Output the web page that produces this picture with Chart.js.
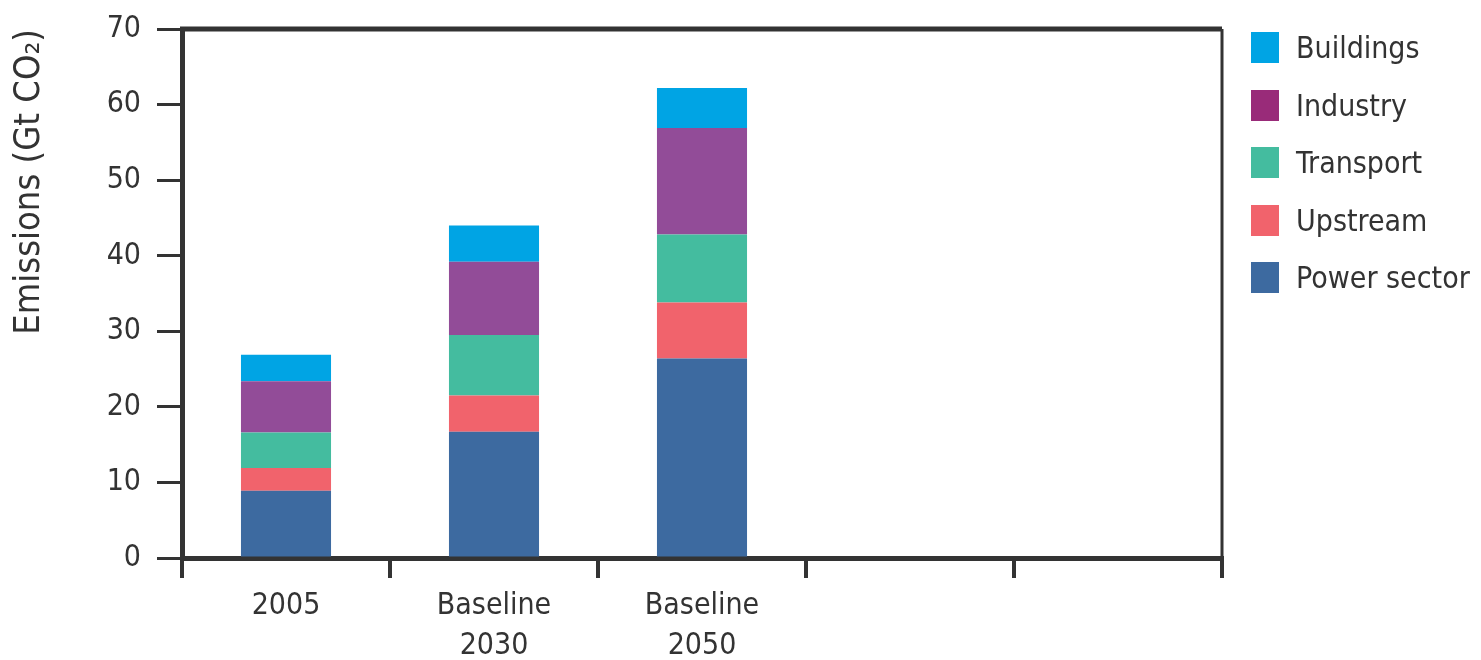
<!DOCTYPE html>
<html>
<head>
<meta charset="utf-8">
<script src="https://cdn.jsdelivr.net/npm/chart.js@4"></script>
<style>
  body { margin: 0; background: #fff; }
  #wrap { position: relative; width: 1481px; height: 660px; }
  #legend { position: absolute; left: 1251px; top: 32px; margin: 0; padding: 0; list-style: none;
    font-family: "Liberation Sans Narrow", "DejaVu Sans Condensed", sans-serif; font-size: 30px; color: #333; }
  #legend li { display: flex; align-items: flex-start; height: 57.5px; margin: 0; }
  #legend li span.box { display: inline-block; width: 28px; height: 31px; margin-right: 17px; }
  #legend li span.txt { line-height: 31px; }
</style>
</head>
<body>
<div id="wrap">
  <canvas id="chart" width="1481" height="660"></canvas>
  <ul id="legend"></ul>
</div>
<script>
const categories = ["2005", ["Baseline", "2030"], ["Baseline", "2050"], "", ""];
const powerSector = [8.9, 16.7, 26.4];
const upstream = [3.0, 4.8, 7.4];
const transport = [4.7, 8.0, 9.0];
const industry = [6.8, 9.7, 14.1];
const buildings = [3.5, 4.8, 5.3];
const yTicks = [0, 10, 20, 30, 40, 50, 60, 70];

const ink = "#333333";
const font = "'Liberation Sans Narrow', 'DejaVu Sans Condensed', sans-serif";

const series = [
  { label: "Power sector", data: powerSector, color: "#3d6aa0", key: "#3d6aa0" },
  { label: "Upstream", data: upstream, color: "#f1636c", key: "#f1636c" },
  { label: "Transport", data: transport, color: "#44bc9f", key: "#44bc9f" },
  { label: "Industry", data: industry, color: "#924c98", key: "#992b79" },
  { label: "Buildings", data: buildings, color: "#00a4e4", key: "#00a4e4" },
];

// legend top to bottom
const legend = document.getElementById("legend");
series.slice().reverse().forEach(function (s) {
  const li = document.createElement("li");
  li.innerHTML = '<span class="box" style="background:' + s.key + '"></span><span class="txt">' + s.label + "</span>";
  legend.appendChild(li);
});

const frame = {
  id: "frame",
  afterDraw(chart) {
    const a = chart.chartArea;
    const ctx = chart.ctx;
    ctx.save();
    ctx.strokeStyle = ink;
    ctx.lineWidth = 5;
    ctx.beginPath();
    ctx.moveTo(a.left - 2, a.top);
    ctx.lineTo(a.right, a.top);
    ctx.stroke();
    ctx.lineWidth = 3;
    ctx.beginPath();
    ctx.moveTo(a.right, a.top);
    ctx.lineTo(a.right, a.bottom);
    ctx.stroke();
    ctx.restore();
  },
};

new Chart(document.getElementById("chart"), {
  type: "bar",
  data: {
    labels: categories,
    datasets: series.map(function (s) {
      return { label: s.label, data: s.data, backgroundColor: s.color, borderWidth: 0 };
    }),
  },
  options: {
    responsive: false,
    animation: false,
    layout: { padding: { left: 0, right: 259, top: 29, bottom: 0 } },
    plugins: { legend: { display: false }, tooltip: { enabled: false } },
    datasets: { bar: { categoryPercentage: 1, barPercentage: 0.433 } },
    scales: {
      x: {
        stacked: true,
        afterFit(scale) { scale.height = 102; },
        border: { display: true, color: ink, width: 5 },
        grid: { offset: true, drawOnChartArea: false, drawTicks: true, tickLength: 20, color: ink, lineWidth: 4 },
        ticks: { color: ink, font: { family: font, size: 30, lineHeight: 1.33 }, padding: 8, maxRotation: 0, autoSkip: false },
      },
      y: {
        stacked: true,
        min: 0,
        max: 70,
        afterFit(scale) {
          scale.width = 182;
          scale.paddingTop = 0;
          scale.paddingBottom = 0;
        },
        afterBuildTicks(scale) { scale.ticks = yTicks.map(function (v) { return { value: v }; }); },
        border: { display: true, color: ink, width: 5 },
        grid: { drawOnChartArea: false, drawTicks: true, tickLength: 25, color: ink, lineWidth: 3 },
        ticks: { color: ink, font: { family: font, size: 30 }, padding: 16 },
        title: {
          display: true,
          text: "Emissions (Gt CO₂)",
          align: "end",
          color: ink,
          font: { family: font, size: 36 },
          padding: { top: 8, bottom: 0 },
        },
      },
    },
  },
  plugins: [frame],
});
</script>
</body>
</html>
